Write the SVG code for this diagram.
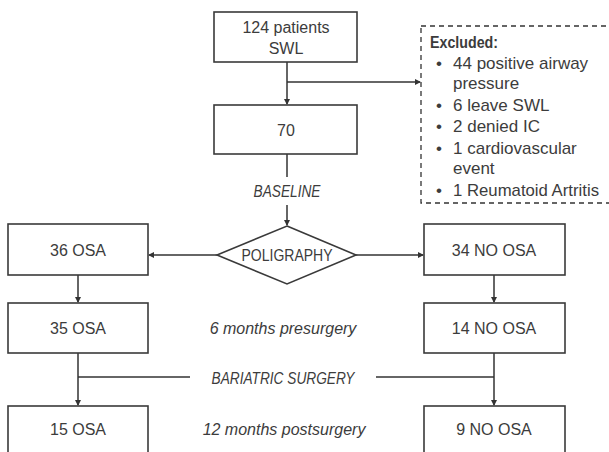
<svg xmlns="http://www.w3.org/2000/svg" width="609" height="452" viewBox="0 0 609 452">
<defs>
<marker id="ah" markerWidth="6" markerHeight="6" refX="5" refY="3" orient="auto" markerUnits="userSpaceOnUse">
<path d="M0,0 L6,3 L0,6 Z" fill="#333"/>
</marker>
<style>
.box{fill:#fff;stroke:#3a3a3a;stroke-width:1.6}
.t{font-family:"Liberation Sans",Arial,sans-serif;font-size:16px;fill:#3c3c3c;text-anchor:middle}
.i{font-style:italic}
.l{font-family:"Liberation Sans",Arial,sans-serif;font-size:17px;fill:#3c3c3c}
.ln{stroke:#333;stroke-width:1.5;fill:none}
.ar{marker-end:url(#ah)}
</style>
</defs>
<rect width="609" height="452" fill="#fff"/>
<g id="connectors">
<path class="ln ar" d="M287,62 V104"/>
<path class="ln ar" d="M287,82 H420"/>
<path class="ln" d="M287,154 V177"/>
<path class="ln ar" d="M287,205 V225"/>
<path class="ln ar" d="M217,255 H149"/>
<path class="ln ar" d="M356,255 H423"/>
<path class="ln ar" d="M78,275 V302"/>
<path class="ln ar" d="M494,275 V302"/>
<path class="ln ar" d="M78,353 V405"/>
<path class="ln ar" d="M494,353 V405"/>
<path class="ln" d="M78,377 H190"/>
<path class="ln" d="M376,377 H494"/>
</g>
<g id="n-start">
<rect class="box" x="214" y="12" width="143" height="50"/>
<text class="t" x="286" y="33">124 patients</text>
<text class="t" x="286" y="54">SWL</text>
</g>
<g id="n-excluded">
<rect x="421" y="26" width="200" height="177" fill="none" stroke="#333" stroke-width="1.3" stroke-dasharray="5,4"/>
<text class="l" x="430" y="48" font-weight="bold" font-size="15" textLength="68" lengthAdjust="spacingAndGlyphs">Excluded:</text>
<text class="l" x="436" y="69">•</text><text class="l" x="453" y="69">44 positive airway</text>
<text class="l" x="453" y="89">pressure</text>
<text class="l" x="436" y="111">•</text><text class="l" x="453" y="111">6 leave SWL</text>
<text class="l" x="436" y="132">•</text><text class="l" x="453" y="132">2 denied IC</text>
<text class="l" x="436" y="154">•</text><text class="l" x="453" y="154">1 cardiovascular</text>
<text class="l" x="453" y="174">event</text>
<text class="l" x="436" y="196">•</text><text class="l" x="453" y="196" textLength="146" lengthAdjust="spacingAndGlyphs">1 Reumatoid Artritis</text>
</g>
<g id="n-70">
<rect class="box" x="214" y="105" width="143" height="49"/>
<text class="t" x="286" y="136">70</text>
</g>
<g id="n-baseline">
<text class="t i" x="287" y="197" textLength="67" lengthAdjust="spacingAndGlyphs">BASELINE</text>
</g>
<g id="n-poligraphy">
<polygon points="287,226 356,255 287,284 217,255" fill="#fff" stroke="#3a3a3a" stroke-width="1.6"/>
<text class="t" x="287" y="261" textLength="91" lengthAdjust="spacingAndGlyphs">POLIGRAPHY</text>
</g>
<g id="n-36osa">
<rect class="box" x="8" y="224" width="140" height="51"/>
<text class="t" x="78" y="256">36 OSA</text>
</g>
<g id="n-34noosa">
<rect class="box" x="424" y="224" width="141" height="51"/>
<text class="t" x="494" y="256">34 NO OSA</text>
</g>
<g id="n-35osa">
<rect class="box" x="8" y="303" width="140" height="50"/>
<text class="t" x="78" y="334">35 OSA</text>
</g>
<g id="n-6months">
<text class="t i" x="283" y="334">6 months presurgery</text>
</g>
<g id="n-14noosa">
<rect class="box" x="424" y="303" width="141" height="50"/>
<text class="t" x="494" y="334">14 NO OSA</text>
</g>
<g id="n-surgery">
<text class="t i" x="283" y="384" textLength="143" lengthAdjust="spacingAndGlyphs">BARIATRIC SURGERY</text>
</g>
<g id="n-15osa">
<rect class="box" x="8" y="406" width="140" height="56"/>
<text class="t" x="78" y="435">15 OSA</text>
</g>
<g id="n-12months">
<text class="t i" x="284" y="435">12 months postsurgery</text>
</g>
<g id="n-9noosa">
<rect class="box" x="424" y="406" width="141" height="56"/>
<text class="t" x="494" y="435">9 NO OSA</text>
</g>
</svg>
